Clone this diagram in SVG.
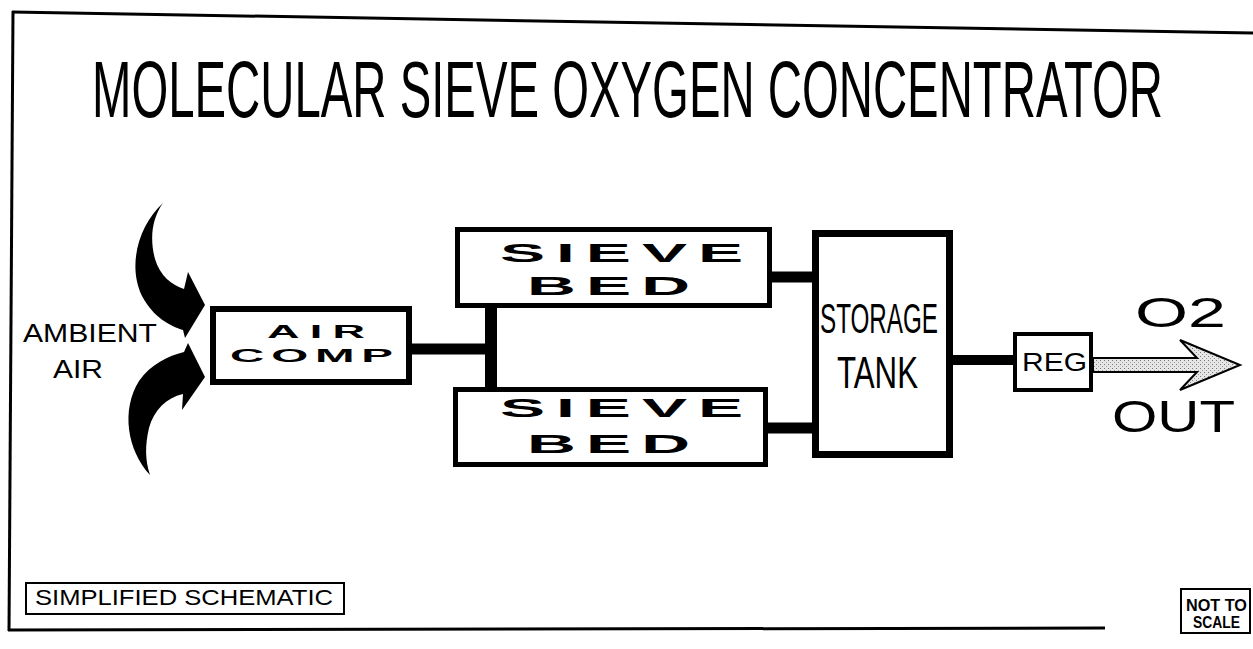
<svg xmlns="http://www.w3.org/2000/svg" width="1253" height="649" viewBox="0 0 1253 649">
<style>
.box{fill:#fff;stroke:#000}
.t{font-family:"Liberation Sans",Arial,sans-serif;fill:#000}
.n{font-family:"Liberation Sans Narrow","Liberation Sans",Arial,sans-serif;fill:#000}
.b{font-weight:bold}
.pipe{stroke:#000;fill:none;stroke-linecap:butt}
</style>
<defs>
<pattern id="stip" width="4" height="4" patternUnits="userSpaceOnUse">
<rect width="4" height="4" fill="#e6e6e6"/>
<rect x="0" y="0" width="1" height="1" fill="#777"/>
<rect x="2" y="2" width="1" height="1" fill="#999"/>
</pattern>
</defs>
<rect width="1253" height="649" fill="#fff"/>
<g id="frame" stroke="#000" stroke-width="3" fill="none">
<line x1="12" y1="12" x2="1253" y2="33"/>
<line x1="13" y1="11" x2="9" y2="631"/>
<line x1="8" y1="630" x2="1105" y2="628"/>
</g>
<text id="title" class="n" x="92" y="117" font-size="79" textLength="1071" lengthAdjust="spacingAndGlyphs">MOLECULAR SIEVE OXYGEN CONCENTRATOR</text>
<g id="connectors">
<path fill="#000" d="M163,203 C139,225 127,265 142,296 C153,317 170,326 183,330 L185,338 L205,305 L188,272 L184,289 C172,285 160,276 155,259 C150,240 151,220 163,203 Z"/>
<path fill="#000" d="M150,475 C127,450 121,410 139,381 C151,364 168,356 184,352 L188,343 L205,377 L182,410 L183,394 C166,398 154,410 149,428 C145,445 145,460 150,475 Z"/>
<line class="pipe" x1="409" y1="349" x2="497" y2="349" stroke-width="11"/>
<line class="pipe" x1="491" y1="305" x2="491" y2="389" stroke-width="12"/>
<line class="pipe" x1="770" y1="277" x2="814" y2="277" stroke-width="11"/>
<line class="pipe" x1="766" y1="428" x2="814" y2="428" stroke-width="11"/>
<line class="pipe" x1="950" y1="360" x2="1015" y2="360" stroke-width="10"/>
<path d="M1093,358 L1197,358 L1180,340 L1240,365 L1180,390 L1197,372 L1093,372 Z" fill="url(#stip)" stroke="#000" stroke-width="2" stroke-linejoin="miter"/>
</g>
<g id="ambient-air">
<text class="t" x="23" y="342" font-size="25" textLength="134" lengthAdjust="spacingAndGlyphs">AMBIENT</text>
<text class="t" x="53" y="378" font-size="25" textLength="50" lengthAdjust="spacingAndGlyphs">AIR</text>
</g>
<g id="air-comp">
<rect class="box" x="213" y="309" width="196" height="73" stroke-width="6"/>
<g transform="scale(2.5,1)">
<text class="t b" x="106.8" y="338" font-size="18" textLength="39.2" lengthAdjust="spacing">AIR</text>
<text class="t b" x="92" y="362" font-size="19" textLength="65.2" lengthAdjust="spacing">COMP</text>
</g>
</g>
<g id="sieve-bed-1">
<rect class="box" x="457.5" y="229.5" width="312" height="76" stroke-width="5"/>
<g transform="scale(2.6,1)">
<text class="t b" x="192.3" y="262" font-size="26" textLength="93.5" lengthAdjust="spacing">SIEVE</text>
<text class="t b" x="202.7" y="295" font-size="26" textLength="62.7" lengthAdjust="spacing">BED</text>
</g>
</g>
<g id="sieve-bed-2">
<rect class="box" x="455.5" y="389.5" width="310" height="75" stroke-width="5"/>
<g transform="scale(2.6,1)">
<text class="t b" x="192.3" y="417" font-size="26" textLength="93.5" lengthAdjust="spacing">SIEVE</text>
<text class="t b" x="202.7" y="453" font-size="26" textLength="62.7" lengthAdjust="spacing">BED</text>
</g>
</g>
<g id="storage-tank">
<rect class="box" x="815.5" y="233.5" width="134" height="221" stroke-width="7"/>
<text class="n" x="820" y="333" font-size="43" textLength="118" lengthAdjust="spacingAndGlyphs">STORAGE</text>
<text class="n" x="837" y="388" font-size="45" textLength="81" lengthAdjust="spacingAndGlyphs">TANK</text>
</g>
<g id="reg">
<rect class="box" x="1015" y="334" width="76" height="56" stroke-width="4"/>
<text class="t" x="1022" y="371" font-size="25" textLength="65" lengthAdjust="spacingAndGlyphs">REG</text>
</g>
<g id="o2-out">
<text class="t" x="1135" y="327" font-size="42" textLength="91" lengthAdjust="spacingAndGlyphs">O2</text>
<text class="t" x="1112" y="432" font-size="44" textLength="123" lengthAdjust="spacingAndGlyphs">OUT</text>
</g>
<g id="simplified-schematic">
<rect class="box" x="26" y="583" width="318" height="31" stroke-width="2"/>
<text class="t" x="35" y="605" font-size="22" textLength="298" lengthAdjust="spacingAndGlyphs">SIMPLIFIED SCHEMATIC</text>
</g>
<g id="not-to-scale">
<rect class="box" x="1181" y="589" width="69" height="44" stroke-width="2"/>
<text class="t b" x="1186" y="611" font-size="17" textLength="61" lengthAdjust="spacingAndGlyphs">NOT TO</text>
<text class="t b" x="1193" y="628" font-size="17" textLength="47" lengthAdjust="spacingAndGlyphs">SCALE</text>
</g>
</svg>
